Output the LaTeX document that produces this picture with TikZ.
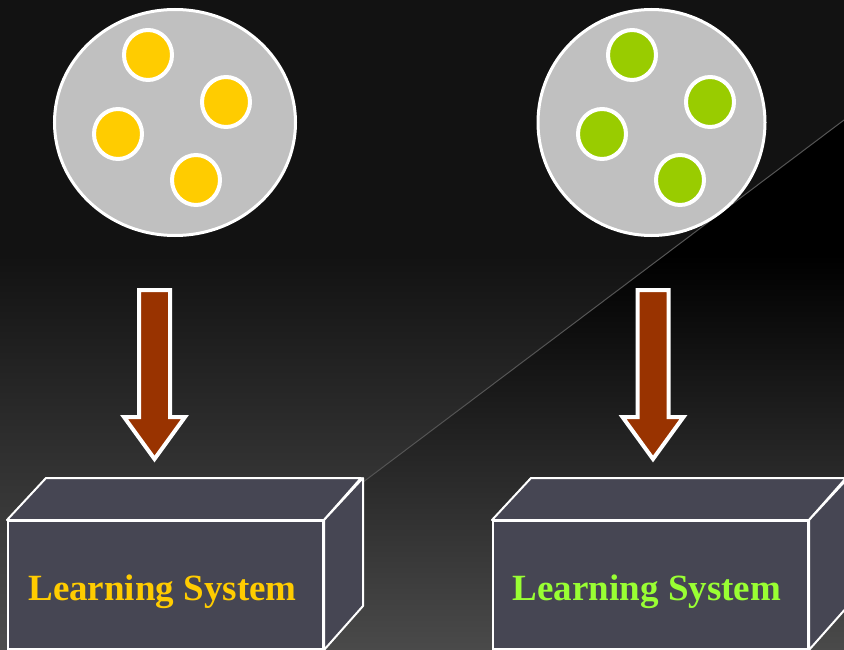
\documentclass[tikz,border=0pt]{standalone}
\usepackage{fontspec}
\setmainfont{Liberation Serif}
\usetikzlibrary{shapes.geometric}

\definecolor{bgtop}{HTML}{121212}
\definecolor{bgbot}{HTML}{4D4D4D}
\definecolor{wedgebot}{HTML}{4A4A4A}
\definecolor{diagline}{HTML}{555555}
\definecolor{plate}{HTML}{C0C0C0}
\definecolor{gold}{HTML}{FFCC00}
\definecolor{lime}{HTML}{99CC00}
\definecolor{limetext}{HTML}{99FF33}
\definecolor{rust}{HTML}{993300}
\definecolor{boxface}{HTML}{464653}

\tikzset{
  platebox/.style={ellipse, draw=white, line width=3, fill=plate, inner sep=0,
    minimum width=#1, minimum height=226},
  dot/.style={ellipse, draw=white, line width=4, fill=#1, inner sep=0,
    minimum width=48, minimum height=50},
  frontface/.style={draw=white, line width=2, fill=boxface, inner sep=0,
    minimum width=315, minimum height=128},
  boxside/.style={draw=white, line width=2, fill=boxface, line join=round},
  flow/.style={draw=white, line width=4, fill=rust, line join=miter},
  caption/.style={anchor=base, font=\bfseries\fontsize{37}{40}\selectfont, text=#1}
}

% hollow block arrow pointing down, centred on x = #1
\newcommand\downblock[1]{%
  \path[flow] (#1-15.5,290) -- (#1+15.5,290) -- (#1+15.5,417) -- (#1+30.5,417)
    -- (#1,459) -- (#1-30.5,417) -- (#1-15.5,417) -- cycle;}

% learning-system box: front face node plus top and side faces
\newcommand\learnbox[4]{%
  \node[frontface] (#1) at (#2,585) {};
  \path[boxside] (#1.north west) -- ++(39,-42) -- ++(315,0) -- ([xshift=0]#1.north east) -- cycle;
  \path[boxside] (#1.north east) -- ++(39,-42) -- ++(0,128) -- (#1.south east) -- cycle;
  \node[frontface] at (#1) {};
  \node[caption=#4] (#1text) at (#3,600) {Learning System};}

\begin{document}
\begin{tikzpicture}[x=1pt,y=-1pt]
\useasboundingbox (0,0) rectangle (844,650);

% background: flat band on top, gradient below
\fill[bgtop] (0,0) rectangle (844,256);
\shade[top color=bgtop, bottom color=bgbot] (0,255) rectangle (844,650);
% darker wedge below the diagonal
\begin{scope}
  \clip (140,650) -- (844,120) -- (844,650) -- cycle;
  \fill[black] (0,0) rectangle (844,650);
  \shade[top color=black, bottom color=wedgebot] (0,255) rectangle (844,650);
\end{scope}
\coordinate (diagA) at (140,650);
\coordinate (diagB) at (844,120);
\draw[diagline, line width=1] (diagA) -- (diagB);

% left plate with gold items
\node[platebox=241] (plateL) at (175,122.5) {};
\node[dot=gold] (gL1) at (148,55) {};
\node[dot=gold] (gL2) at (226,102) {};
\node[dot=gold] (gL3) at (118,134) {};
\node[dot=gold] (gL4) at (196,180) {};

% right plate with green items
\node[platebox=227] (plateR) at (651.5,122.5) {};
\node[dot=lime] (gR1) at (632,55) {};
\node[dot=lime] (gR2) at (710,102) {};
\node[dot=lime] (gR3) at (602,134) {};
\node[dot=lime] (gR4) at (680,180) {};

% arrows into the learning systems
\downblock{154.5}
\downblock{653}

% learning systems
\learnbox{sysL}{165.5}{162.5}{gold}
\learnbox{sysR}{650.5}{647}{limetext}
\end{tikzpicture}
\end{document}
